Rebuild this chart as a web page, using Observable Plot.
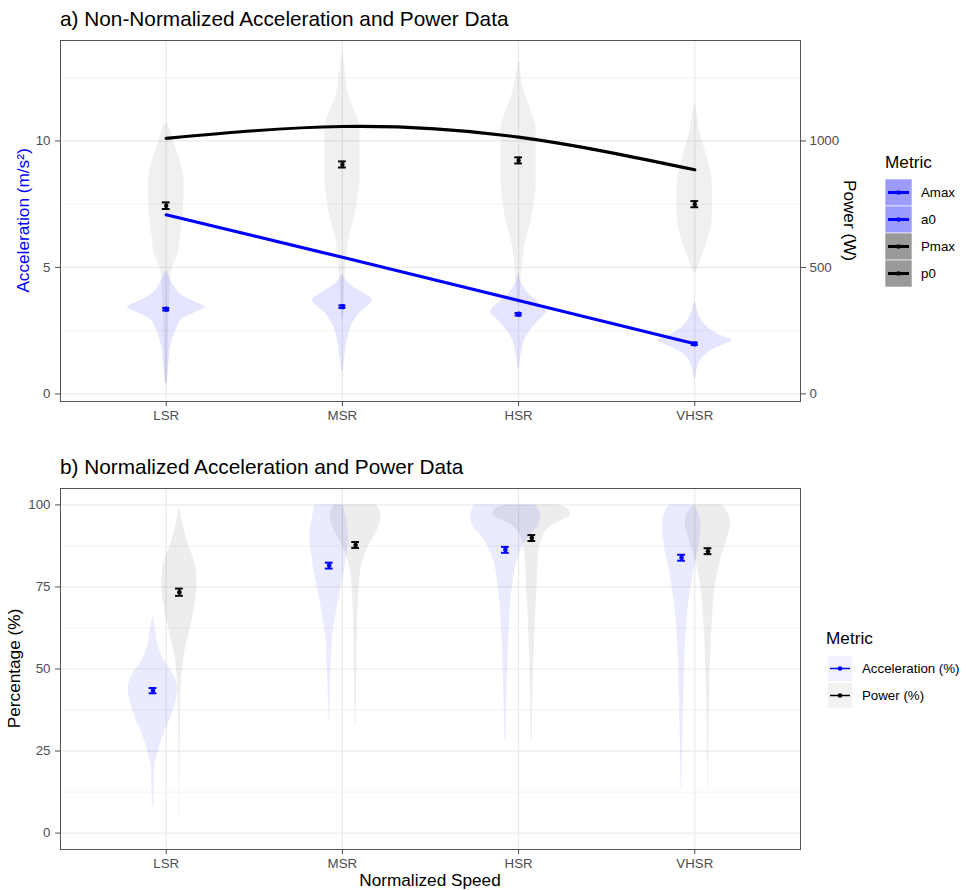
<!DOCTYPE html>
<html><head><meta charset="utf-8">
<script src="https://cdn.jsdelivr.net/npm/d3@7"></script>
<script src="https://cdn.jsdelivr.net/npm/@observablehq/plot@0.6"></script>
<style>
html,body{margin:0;padding:0;background:#fff;}
#wrap{position:relative;width:966px;height:890px;overflow:hidden;font-family:"Liberation Sans",Arial,sans-serif;}
#wrap > svg{position:absolute;}
</style></head><body><div id="wrap"></div>
<script>
// ---------- DATA ----------
const categories = ["LSR", "MSR", "HSR", "VHSR"];

// Panel a (non-normalized)
const amax = [7.08, 5.40, 3.69, 1.98];            // m/s²
const pmaxW = [1010, 1057, 1015, 886];            // W
const a0Mean = [3.35, 3.45, 3.15, 1.98];          // m/s²
const a0SE = [0.05, 0.05, 0.05, 0.05];
const p0MeanW = [744, 907, 923, 750];             // W
const p0SEW = [13, 12, 12, 12];
const wattsPerAccUnit = 100;                      // secondary axis ratio

// violin profiles: [value, density half-width]
const a0Violin = [
  [[0.4,0.005],[1.2,0.015],[2.0,0.03],[2.6,0.06],[2.95,0.09],[3.2,0.16],[3.42,0.22],[3.65,0.16],[3.9,0.09],[4.2,0.05],[4.5,0.025],[4.85,0.005]],
  [[0.9,0.005],[1.5,0.015],[2.2,0.03],[2.8,0.06],[3.2,0.1],[3.5,0.15],[3.7,0.17],[3.95,0.13],[4.2,0.07],[4.5,0.02],[4.7,0.005]],
  [[1.0,0.005],[1.6,0.015],[2.2,0.04],[2.7,0.09],[3.0,0.13],[3.25,0.16],[3.5,0.13],[3.8,0.08],[4.1,0.04],[4.5,0.01],[4.7,0.003]],
  [[0.6,0.005],[1.0,0.015],[1.4,0.04],[1.7,0.09],[1.95,0.17],[2.1,0.21],[2.3,0.15],[2.6,0.08],[2.9,0.04],[3.3,0.015],[3.6,0.005]]
];
const p0ViolinW = [
  [[40,0.008],[300,0.015],[480,0.03],[560,0.07],[620,0.08],[700,0.095],[780,0.1],[850,0.1],[920,0.08],[980,0.05],[1030,0.03],[1070,0.008]],
  [[300,0.008],[500,0.02],[620,0.04],[700,0.07],[780,0.09],[850,0.1],[950,0.1],[1050,0.1],[1120,0.07],[1170,0.04],[1250,0.02],[1340,0.006]],
  [[350,0.008],[500,0.02],[600,0.04],[680,0.07],[760,0.09],[850,0.1],[950,0.1],[1050,0.1],[1120,0.07],[1200,0.03],[1310,0.006]],
  [[480,0.008],[520,0.03],[580,0.06],[650,0.09],[720,0.1],[800,0.1],[880,0.09],[960,0.06],[1030,0.03],[1100,0.015],[1140,0.005]]
];

// Panel b (normalized, %)
const accPct = [43.4, 81.5, 86.3, 83.9];
const accPctSE = [0.8, 0.9, 0.9, 0.9];
const powPct = [73.4, 87.8, 89.9, 85.9];
const powPctSE = [1.1, 0.9, 0.9, 0.9];
const accPctViolin = [
  [[8,0.004],[20,0.01],[25,0.03],[30,0.06],[35,0.1],[40,0.13],[44,0.14],[48,0.12],[52,0.07],[57,0.03],[62,0.015],[66,0.002]],
  [[34,0.002],[50,0.01],[60,0.02],[70,0.05],[78,0.08],[85,0.1],[90,0.11],[95,0.1],[100,0.08]],
  [[28,0.003],[45,0.01],[60,0.02],[75,0.04],[85,0.08],[90,0.13],[94,0.19],[97,0.2],[100,0.17]],
  [[13,0.002],[35,0.01],[55,0.02],[70,0.04],[80,0.07],[88,0.1],[93,0.11],[97,0.1],[100,0.07]]
];
const powPctViolin = [
  [[6,0.002],[30,0.005],[45,0.01],[55,0.03],[62,0.06],[70,0.09],[77,0.1],[82,0.09],[88,0.05],[94,0.02],[99,0.002]],
  [[33,0.003],[48,0.006],[70,0.015],[80,0.03],[87,0.07],[92,0.12],[96,0.145],[98,0.14],[100,0.12]],
  [[28,0.003],[50,0.01],[65,0.02],[75,0.03],[85,0.04],[90,0.06],[94,0.12],[97,0.22],[99,0.2],[100,0.15]],
  [[13,0.002],[40,0.008],[55,0.015],[65,0.025],[75,0.04],[83,0.07],[90,0.11],[94,0.13],[97,0.12],[100,0.08]]
];

const legendA = ["Amax", "a0", "Pmax", "p0"];
const legendAColors = ["#0000ff", "#0000ff", "#000000", "#000000"];
const legendAKeyFill = ["#9c9cff", "#9c9cff", "#999999", "#999999"];
const legendB = ["Acceleration (%)", "Power (%)"];
const legendBColors = ["#0000ff", "#000000"];
const legendBKeyFill = ["#f0f0ff", "#f2f2f2"];

// ---------- helpers ----------
const FONT = "Liberation Sans, Arial, sans-serif";
const BLUE = "#0000ff";
function violinRows(profiles, tag, offset, scale = 1) {
  const rows = [];
  profiles.forEach((prof, i) => prof.forEach(([v, hw]) =>
    rows.push({key: tag + i, cx: i + offset, v: v / scale, hw})));
  return rows;
}
function statRows(means, ses, offset, scale = 1) {
  return means.map((m, i) => ({cx: i + offset, m: m / scale, lo: (m - ses[i]) / scale, hi: (m + ses[i]) / scale}));
}
function errorMarks(rows, color, capW, r) {
  return [
    Plot.ruleX(rows, {x: "cx", y1: "lo", y2: "hi", stroke: color, strokeWidth: 2}),
    Plot.ruleY(rows, {y: "lo", x1: d => d.cx - capW, x2: d => d.cx + capW, stroke: color, strokeWidth: 2}),
    Plot.ruleY(rows, {y: "hi", x1: d => d.cx - capW, x2: d => d.cx + capW, stroke: color, strokeWidth: 2}),
    Plot.dot(rows, {x: "cx", y: "m", r, fill: color, stroke: null})
  ];
}
const idx = categories.map((_, i) => i);
const gridCol = "#ebebeb";
const tickCol = "#4d4d4d";

// ---------- Panel a ----------
const a0Rows = violinRows(a0Violin, "a0", 0);
const p0Rows = violinRows(p0ViolinW, "p0", 0, wattsPerAccUnit);
const amaxRows = amax.map((v, i) => ({cx: i, v}));
const pmaxRows = pmaxW.map((v, i) => ({cx: i, v: v / wattsPerAccUnit}));

const plotA = Plot.plot({
  width: 850, height: 430, marginLeft: 60, marginRight: 50, marginTop: 40, marginBottom: 29,
  style: {fontFamily: FONT, fontSize: "13.3px", background: "transparent", overflow: "visible"},
  x: {type: "linear", domain: [-0.6, 3.6]},
  y: {domain: [-0.3, 13.97]},
  marks: [
    Plot.gridY([2.5, 7.5, 12.5], {stroke: gridCol, strokeOpacity: 1, strokeWidth: 0.6}),
    Plot.gridY([0, 5, 10], {stroke: gridCol, strokeOpacity: 1, strokeWidth: 1.2}),
    Plot.gridX(idx, {stroke: gridCol, strokeOpacity: 1, strokeWidth: 1.2}),
    Plot.areaX(p0Rows, {y: "v", x1: d => d.cx - d.hw, x2: d => d.cx + d.hw, z: "key", fill: "#000", fillOpacity: 0.06, curve: "monotone-y"}),
    Plot.areaX(a0Rows, {y: "v", x1: d => d.cx - d.hw, x2: d => d.cx + d.hw, z: "key", fill: BLUE, fillOpacity: 0.1, curve: "monotone-y"}),
    Plot.line(amaxRows, {x: "cx", y: "v", stroke: BLUE, strokeWidth: 3.2}),
    Plot.line(pmaxRows, {x: "cx", y: "v", stroke: "#000", strokeWidth: 3.2, curve: "natural"}),
    ...errorMarks(statRows(p0MeanW, p0SEW, 0, wattsPerAccUnit), "#000", 0.022, 2.2),
    ...errorMarks(statRows(a0Mean, a0SE, 0), BLUE, 0.02, 2.6),
    Plot.frame({stroke: "#555", strokeWidth: 1}),
    Plot.axisX({ticks: idx, tickFormat: i => categories[i], tickSize: 5, tickPadding: 4, color: tickCol, label: null}),
    Plot.axisY({anchor: "left", ticks: [0, 5, 10], tickSize: 5, tickPadding: 5, color: tickCol, label: null}),
    Plot.axisY({anchor: "right", ticks: [0, 5, 10], tickFormat: d => String(d * wattsPerAccUnit), tickSize: 5, tickPadding: 4, color: tickCol, label: null})
  ]
});
plotA.style.left = "0px"; plotA.style.top = "0px";

// ---------- Panel b ----------
const dodge = 0.075;
const accRows = violinRows(accPctViolin, "acc", -dodge);
const powRows = violinRows(powPctViolin, "pow", dodge);
const plotB = Plot.plot({
  width: 850, height: 442, marginLeft: 60, marginRight: 50, marginTop: 40, marginBottom: 41,
  style: {fontFamily: FONT, fontSize: "13.3px", background: "transparent", overflow: "visible"},
  x: {type: "linear", domain: [-0.6, 3.6]},
  y: {domain: [-5, 105]},
  marks: [
    Plot.gridY([12.5, 37.5, 62.5, 87.5], {stroke: gridCol, strokeOpacity: 1, strokeWidth: 0.6}),
    Plot.gridY([0, 25, 50, 75, 100], {stroke: gridCol, strokeOpacity: 1, strokeWidth: 1.2}),
    Plot.gridX(idx, {stroke: gridCol, strokeOpacity: 1, strokeWidth: 1.2}),
    Plot.areaX(accRows, {y: "v", x1: d => d.cx - d.hw, x2: d => d.cx + d.hw, z: "key", fill: BLUE, fillOpacity: 0.08, curve: "monotone-y"}),
    Plot.areaX(powRows, {y: "v", x1: d => d.cx - d.hw, x2: d => d.cx + d.hw, z: "key", fill: "#000", fillOpacity: 0.07, curve: "monotone-y"}),
    ...errorMarks(statRows(accPct, accPctSE, -dodge), BLUE, 0.022, 2.3),
    ...errorMarks(statRows(powPct, powPctSE, dodge), "#000", 0.022, 2.3),
    Plot.frame({stroke: "#555", strokeWidth: 1}),
    Plot.axisX({ticks: idx, tickFormat: i => categories[i], tickSize: 5, tickPadding: 4, color: tickCol, label: null}),
    Plot.axisY({anchor: "left", ticks: [0, 25, 50, 75, 100], tickSize: 5, tickPadding: 5, color: tickCol, label: null})
  ]
});
plotB.style.left = "0px"; plotB.style.top = "448px";

const wrap = document.getElementById("wrap");
wrap.appendChild(plotA);
wrap.appendChild(plotB);

// ---------- overlay: titles, axis titles, legends ----------
const ov = d3.select(wrap).append("svg")
  .attr("width", 966).attr("height", 890)
  .style("left", "0px").style("top", "0px")
  .style("font-family", FONT).style("pointer-events", "none");

ov.append("text").attr("x", 60).attr("y", 26).attr("font-size", 20.8).attr("fill", "#000")
  .text("a) Non-Normalized Acceleration and Power Data");
ov.append("text").attr("x", 60).attr("y", 474).attr("font-size", 20.8).attr("fill", "#000")
  .text("b) Normalized Acceleration and Power Data");
ov.append("text").attr("transform", "translate(29,220.5) rotate(-90)").attr("text-anchor", "middle")
  .attr("font-size", 17.2).attr("fill", BLUE).text("Acceleration (m/s²)");
ov.append("text").attr("transform", "translate(843.5,220.5) rotate(90)").attr("text-anchor", "middle")
  .attr("font-size", 17.2).attr("fill", "#000").text("Power (W)");
ov.append("text").attr("transform", "translate(20,668.5) rotate(-90)").attr("text-anchor", "middle")
  .attr("font-size", 17.2).attr("fill", "#000").text("Percentage (%)");
ov.append("text").attr("x", 430).attr("y", 886).attr("text-anchor", "middle")
  .attr("font-size", 17.2).attr("fill", "#000").text("Normalized Speed");

// legend a
ov.append("text").attr("x", 885).attr("y", 168).attr("font-size", 17.2).text("Metric");
legendA.forEach((name, i) => {
  const y0 = 179 + 27 * i;
  ov.append("rect").attr("x", 885).attr("y", y0).attr("width", 27).attr("height", 27)
    .attr("fill", legendAKeyFill[i]).attr("stroke", "#fff").attr("stroke-width", 0.6);
  ov.append("line").attr("x1", 888).attr("x2", 909).attr("y1", y0 + 13.5).attr("y2", y0 + 13.5)
    .attr("stroke", legendAColors[i]).attr("stroke-width", 3);
  ov.append("circle").attr("cx", 898.5).attr("cy", y0 + 13.5).attr("r", 2.3).attr("fill", legendAColors[i]);
  ov.append("text").attr("x", 921).attr("y", y0 + 18).attr("font-size", 13.3).attr("fill", "#000").text(name);
});

// legend b
ov.append("text").attr("x", 826).attr("y", 644).attr("font-size", 17.2).text("Metric");
legendB.forEach((name, i) => {
  const y0 = 656 + 27 * i;
  ov.append("rect").attr("x", 828).attr("y", y0).attr("width", 24).attr("height", 25)
    .attr("fill", legendBKeyFill[i]);
  ov.append("line").attr("x1", 830).attr("x2", 850).attr("y1", y0 + 12.5).attr("y2", y0 + 12.5)
    .attr("stroke", legendBColors[i]).attr("stroke-width", 1.5);
  ov.append("circle").attr("cx", 840).attr("cy", y0 + 12.5).attr("r", 2.3).attr("fill", legendBColors[i]);
  ov.append("text").attr("x", 862).attr("y", y0 + 17).attr("font-size", 13.3).attr("fill", "#000").text(name);
});
</script></body></html>
